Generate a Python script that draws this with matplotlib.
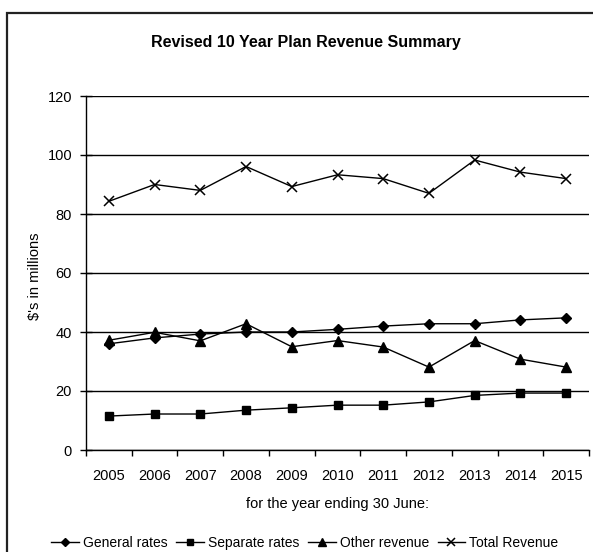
import numpy as np
import matplotlib
matplotlib.use('Agg')
from matplotlib import pyplot as plt
from matplotlib.patches import Rectangle

plt.rcParams['font.family'] = ['Liberation Sans', 'DejaVu Sans']

years = ['2005', '2006', '2007', '2008', '2009', '2010', '2011', '2012', '2013', '2014', '2015']
general_rates = [36, 38, 39.3, 40, 40, 40.9, 42, 42.8, 42.8, 44.1, 44.8]
separate_rates = [11.5, 12.2, 12.2, 13.5, 14.3, 15.2, 15.2, 16.3, 18.5, 19.3, 19.3]
other_revenue = [37.2, 39.9, 37, 42.8, 35, 37.1, 34.9, 28.1, 37.1, 30.8, 28.1]
total_revenue = [84.3, 90, 88, 96.1, 89.3, 93.3, 92, 87, 98.3, 94.2, 92]

fig = plt.figure(figsize=(5.93, 5.52), dpi=100)
ax = fig.add_axes([86 / 593, 1 - 450 / 552, 503 / 593, 354 / 552])

# outer chart border (only top/left fall inside the image)
fig.patches.append(Rectangle((7 / 593, -0.1), 1.2, 1.1 - 13 / 552,
                             transform=fig.transFigure, fill=False,
                             edgecolor='#222222', linewidth=1.6, zorder=0))

x = np.arange(len(years))
ax.plot(x, general_rates, color='black', lw=1, marker='D', ms=5, label='General rates')
ax.plot(x, separate_rates, color='black', lw=1, marker='s', ms=6, label='Separate rates')
ax.plot(x, other_revenue, color='black', lw=1, marker='^', ms=7, label='Other revenue')
ax.plot(x, total_revenue, color='black', lw=1, marker='x', ms=7, mew=1.1, label='Total Revenue')

ax.set_ylim(0, 120)
ax.set_yticks(range(0, 121, 20))
ax.yaxis.grid(True, color='black', lw=1)
ax.set_axisbelow(True)

ax.set_xlim(-0.5, len(years) - 0.5)
ax.set_xticks(np.arange(-0.5, len(years), 1))
ax.set_xticklabels([])
ax.set_xticks(x, minor=True)
ax.set_xticklabels(years, minor=True)
ax.tick_params(axis='x', which='major', direction='out', length=4, width=1, color='black')
ax.tick_params(axis='x', which='minor', length=0, pad=14, labelsize=10.5)
ax.tick_params(axis='y', direction='inout', length=8, width=1, labelsize=10.5, pad=6)

for side in ['top', 'right']:
    ax.spines[side].set_visible(False)
for side in ['left', 'bottom']:
    ax.spines[side].set_linewidth(1)
    ax.spines[side].set_color('black')

ax.set_xlabel('for the year ending 30 June:', fontsize=10.5, labelpad=10)
ax.set_ylabel("$'s in millions", fontsize=10.5)
ax.yaxis.set_label_coords(42 / 593, 0.5, transform=fig.transFigure)

fig.text(306 / 593, 1 - 42 / 552, 'Revised 10 Year Plan Revenue Summary',
         ha='center', va='center', fontsize=11.5, fontweight='bold')

fig.legend(loc='center', bbox_to_anchor=(305 / 593, 1 - 543 / 552), ncol=4, frameon=False,
           fontsize=10, handlelength=2.0, handletextpad=0.3, columnspacing=0.6,
           markerscale=0.75, borderpad=0)

fig.savefig('out.png', dpi=100)
